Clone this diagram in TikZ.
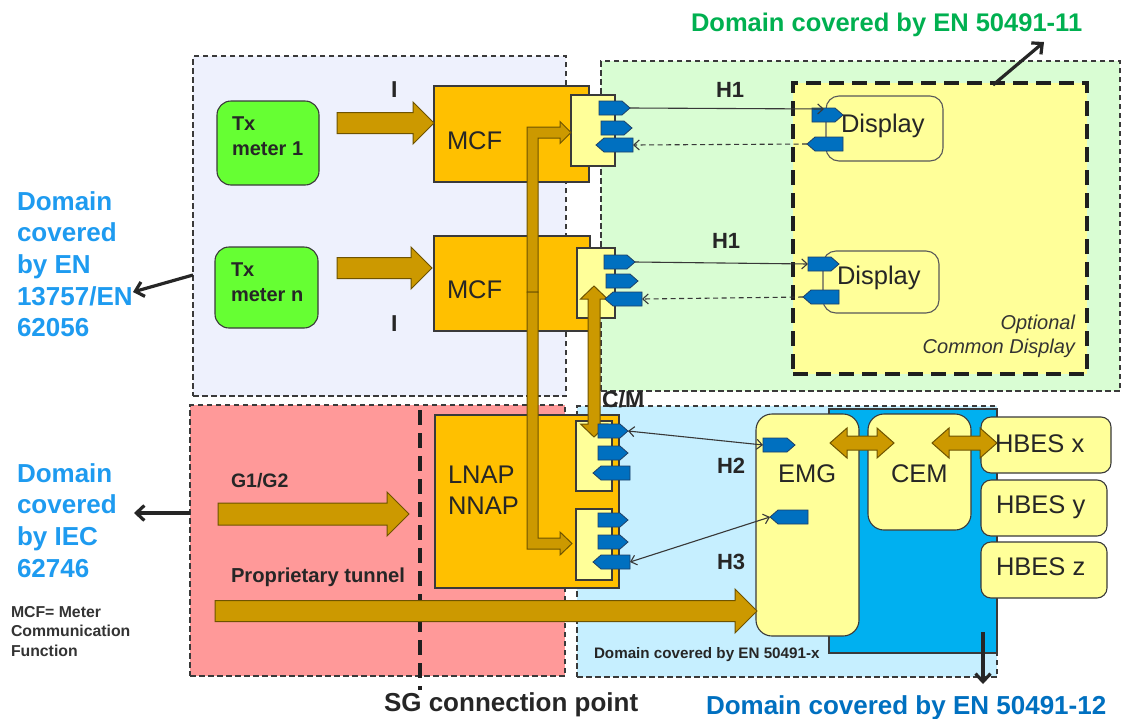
\documentclass[tikz,border=0pt]{standalone}
\usepackage{fontspec}
\setmainfont{Liberation Sans}
\usetikzlibrary{arrows.meta}
\definecolor{lavC}{HTML}{EEF1FD}
\definecolor{greenbg}{HTML}{D9FDD3}
\definecolor{optY}{HTML}{FFFF99}
\definecolor{redC}{HTML}{FF9999}
\definecolor{lblue}{HTML}{C6EFFF}
\definecolor{bblue}{HTML}{00B0F0}
\definecolor{orangeC}{HTML}{FFC000}
\definecolor{goldC}{HTML}{CC9900}
\definecolor{goldD}{HTML}{6E5300}
\definecolor{meterG}{HTML}{66FF33}
\definecolor{portY}{HTML}{FFFF99}
\definecolor{tagB}{HTML}{0070C0}
\definecolor{tagD}{HTML}{1F3F66}
\definecolor{dgray}{HTML}{3A3A3A}
\definecolor{txt}{HTML}{262626}
\definecolor{leftblue}{HTML}{1E9BF0}
\definecolor{botblue}{HTML}{0070C0}
\definecolor{topgreen}{HTML}{00B050}
\newcommand\fsz[2]{\fontsize{#1pt}{#2pt}\selectfont}
\newcommand\harrow[6]{%
  \filldraw[goldarr] (#1,{#3-#4}) -- ({#2-#6},{#3-#4}) -- ({#2-#6},{#3-#5}) -- (#2,#3) -- ({#2-#6},{#3+#5}) -- ({#2-#6},{#3+#4}) -- (#1,{#3+#4}) -- cycle;}
\newcommand\dharrow[6]{%
  \filldraw[goldarr] (#1,#3) -- ({#1+#6},{#3-#5}) -- ({#1+#6},{#3-#4}) -- ({#2-#6},{#3-#4}) -- ({#2-#6},{#3-#5}) -- (#2,#3) -- ({#2-#6},{#3+#5}) -- ({#2-#6},{#3+#4}) -- ({#1+#6},{#3+#4}) -- ({#1+#6},{#3+#5}) -- cycle;}
\newcommand\dvarrow[6]{%
  \filldraw[goldarr] (#1,#2) -- ({#1+#5},{#2+#6}) -- ({#1+#4},{#2+#6}) -- ({#1+#4},{#3-#6}) -- ({#1+#5},{#3-#6}) -- (#1,#3) -- ({#1-#5},{#3-#6}) -- ({#1-#4},{#3-#6}) -- ({#1-#4},{#2+#6}) -- ({#1-#5},{#2+#6}) -- cycle;}
\newcommand\tagR[4]{%
  \filldraw[tagst] (#2,{#4-7}) -- ({#3-8},{#4-7}) -- (#3,#4) -- ({#3-8},{#4+7}) -- (#2,{#4+7}) -- cycle;
  \coordinate (#1) at (#3,#4); \coordinate (#1-w) at (#2,#4);}
\newcommand\tagL[4]{%
  \filldraw[tagst] (#2,#4) -- ({#2+8},{#4-7}) -- (#3,{#4-7}) -- (#3,{#4+7}) -- ({#2+8},{#4+7}) -- cycle;
  \coordinate (#1) at (#2,#4); \coordinate (#1-e) at (#3,#4);}
\begin{document}
\begin{tikzpicture}[x=1pt,y=-1pt,
  every node/.style={inner sep=0pt, outer sep=0pt},
  dombox/.style={draw=dgray, line width=1.6pt, dash pattern=on 5.5pt off 3.5pt},
  bigdash/.style={draw=black!88, line width=3.8pt, dash pattern=on 15pt off 8pt},
  abox/.style={anchor=north west, draw=dgray, line width=1.1pt},
  obox/.style={abox, fill=orangeC},
  pbox/.style={abox, fill=portY},
  rbox/.style={abox, fill=portY, draw=black!65, rounded corners=13pt},
  mbox/.style={abox, fill=meterG, rounded corners=14pt},
  goldarr/.style={draw=goldD, fill=goldC, line width=1pt},
  tagst/.style={fill=tagB, draw=tagD, line width=0.8pt},
  conn/.style={draw=black!78, line width=1.1pt},
  dashc/.style={dash pattern=on 5pt off 3.5pt},
  tipE/.style={-{Straight Barb[length=5.5pt,width=10pt]}},
  tipB/.style={{Straight Barb[length=5.5pt,width=10pt]}-{Straight Barb[length=5.5pt,width=10pt]}},
  callarr/.style={draw=black!85, line width=3.2pt, -{Straight Barb[length=8pt,width=15pt]}},
  lbl/.style={anchor=base west, text=txt},
  blbl/.style={anchor=base west, text=txt, font=\bfseries}
]
\useasboundingbox (0,0) rectangle (1121,718);
\fill[white] (0,0) rectangle (1121,718);

% ---- domain areas ----
\node[dombox, fill=lavC, anchor=north west, minimum width=373pt, minimum height=340pt] (lav) at (193,56) {};
\node[dombox, fill=greenbg, anchor=north west, minimum width=519pt, minimum height=330pt] (grn) at (601,61) {};
\node[bigdash, fill=optY, anchor=north west, minimum width=294pt, minimum height=291pt] (opt) at (793,83) {};
\node[dombox, fill=redC, anchor=north west, minimum width=375pt, minimum height=271pt] (red) at (190,405) {};
\node[dombox, fill=lblue, anchor=north west, minimum width=420pt, minimum height=271pt] (lbl) at (577,406) {};
\node[draw=dgray, line width=1.1pt, fill=bblue, anchor=north west, minimum width=168pt, minimum height=244pt] (bbl) at (829,409) {};
\coordinate (sgtop) at (420,410);
\coordinate (sgbot) at (420,690);
\draw[bigdash] (sgtop) -- (sgbot);

% ---- boxes ----
\node[mbox, minimum width=102pt, minimum height=84pt] (tx1) at (217,101) {};
\node[mbox, minimum width=103pt, minimum height=81pt] (txn) at (215,247) {};
\node[obox, minimum width=155pt, minimum height=96pt] (mcf1) at (434,86) {};
\node[obox, minimum width=156pt, minimum height=95pt] (mcf2) at (434,236) {};
\node[obox, minimum width=184pt, minimum height=173pt] (lnap) at (435,415) {};
\node[pbox, minimum width=44pt, minimum height=71pt] (p1) at (571,95) {};
\node[pbox, minimum width=38pt, minimum height=70pt] (p2) at (577,248) {};
\node[pbox, minimum width=36pt, minimum height=70pt] (p3) at (576,421) {};
\node[pbox, minimum width=36pt, minimum height=71pt] (p4) at (576,509) {};
\node[rbox, minimum width=117pt, minimum height=65pt] (disp1) at (826,96) {};
\node[rbox, minimum width=116pt, minimum height=62pt] (disp2) at (823,251) {};
\node[rbox, rounded corners=16pt, draw=dgray, minimum width=103pt, minimum height=222pt] (emg) at (756,414) {};
\node[rbox, rounded corners=16pt, draw=dgray, minimum width=103pt, minimum height=116pt] (cem) at (868,414) {};
\node[rbox, rounded corners=10pt, draw=dgray, minimum width=130pt, minimum height=56pt] (hbx) at (981,417) {};
\node[rbox, rounded corners=10pt, draw=dgray, minimum width=126pt, minimum height=56pt] (hby) at (981,480) {};
\node[rbox, rounded corners=10pt, draw=dgray, minimum width=126pt, minimum height=56pt] (hbz) at (981,542) {};

% ---- gold block arrows ----
\harrow{337}{434}{123}{10.5}{21}{21}
\harrow{337}{432}{268}{10.5}{21}{21}
\harrow{218}{409}{514}{11}{22}{22}
\harrow{215}{757}{611}{10.5}{22}{22}
% bent arrows from MCF level up to port 1 and down to port 4
\filldraw[goldarr] (527,292) -- (527,127) -- (560,127) -- (560,121.5) -- (571,132.5) -- (560,143.5) -- (560,138) -- (538,138) -- (538,292) -- cycle;
\filldraw[goldarr] (527,292) -- (527,549) -- (560,549) -- (560,555) -- (572,543.5) -- (560,532) -- (560,538) -- (538,538) -- (538,292) -- cycle;
\dvarrow{594}{286}{437}{6}{13.5}{13}
\dharrow{830}{894}{443}{7}{15}{17}
\dharrow{932}{997}{443}{7}{15}{17}

% ---- port tags ----
\tagR{m1a}{599}{630}{108}
\tagR{m1b}{601}{632}{128}
\tagL{m1c}{596}{633}{145}
\tagR{m2a}{604}{635}{262}
\tagR{m2b}{606}{638}{281}
\tagL{m2c}{605}{642}{299}
\tagR{l1a}{598}{628}{431}
\tagR{l1b}{598}{628}{453}
\tagL{l1c}{593}{630}{473}
\tagR{l2a}{598}{628}{520}
\tagR{l2b}{598}{628}{542}
\tagL{l2c}{593}{630}{562}
\tagR{d1a}{812}{843}{115}
\tagL{d1b}{807}{843}{144}
\tagR{d2a}{808}{839}{264}
\tagL{d2b}{803}{839}{297}
\tagR{ea}{763}{795}{445}
\tagL{eb}{770}{808}{517}

% ---- thin connectors ----
\coordinate (d1in) at (824,109);
\draw[conn, tipE] (m1a) -- (d1in);
\draw[conn, tipE, dashc] (d1b) -- (m1c-e);
\draw[conn, tipE] (m2a) -- (d2a-w);
\draw[conn, tipE, dashc] (d2b) -- (m2c-e);
\draw[conn, tipB] (l1a) -- (ea-w);
\draw[conn, tipB] (l2c-e) -- (eb);

% ---- callout arrows ----
\coordinate (c1s) at (193,275); \coordinate (c1e) at (133,292);
\draw[callarr] (c1s) -- (c1e);
\coordinate (c2s) at (190,513); \coordinate (c2e) at (134,513);
\draw[callarr] (c2s) -- (c2e);
\coordinate (c3s) at (993,85); \coordinate (c3e) at (1044,42);
\draw[callarr] (c3s) -- (c3e);
\coordinate (c4s) at (983,632); \coordinate (c4e) at (983,684);
\draw[callarr] (c4s) -- (c4e);

% ---- texts in boxes ----
\node[blbl, font=\bfseries\fsz{20}{24}] (t1a) at (232,130) {Tx};
\node[blbl, font=\bfseries\fsz{20}{24}] (t1b) at (232,155) {meter 1};
\node[blbl, font=\bfseries\fsz{20}{24}] (tna) at (231,276) {Tx};
\node[blbl, font=\bfseries\fsz{20}{24}] (tnb) at (231,301) {meter n};
\node[lbl, font=\fsz{25.5}{30}] (tm1) at (447,149) {MCF};
\node[lbl, font=\fsz{25.5}{30}] (tm2) at (447,298) {MCF};
\node[lbl, font=\fsz{25.5}{30}] (tl1) at (448,483) {LNAP};
\node[lbl, font=\fsz{25.5}{30}] (tl2) at (448,514) {NNAP};
\node[lbl, font=\fsz{25.5}{30}] (td1) at (841,132) {Display};
\node[lbl, font=\fsz{25.5}{30}] (td2) at (837,284) {Display};
\node[lbl, font=\fsz{25.5}{30}] (te) at (778,482) {EMG};
\node[lbl, font=\fsz{25.5}{30}] (tc) at (891,482) {CEM};
\node[lbl, font=\fsz{25.5}{30}] (thx) at (995,452) {HBES x};
\node[lbl, font=\fsz{25.5}{30}] (thy) at (996,513) {HBES y};
\node[lbl, font=\fsz{25.5}{30}] (thz) at (996,575) {HBES z};
\node[anchor=base east, text=black!80, font=\itshape\fsz{20}{24}] (to1) at (1075,329) {Optional};
\node[anchor=base east, text=black!80, font=\itshape\fsz{20}{24}] (to2) at (1075,353) {Common Display};

% ---- interface labels ----
\node[blbl, font=\bfseries\fsz{23}{27}] (li1) at (391,97) {I};
\node[blbl, font=\bfseries\fsz{23}{27}] (li2) at (391,331) {I};
\node[blbl, font=\bfseries\fsz{22}{26}] (lh1) at (716,97) {H1};
\node[blbl, font=\bfseries\fsz{22}{26}] (lh1b) at (712,248) {H1};
\node[blbl, font=\bfseries\fsz{23}{27}] (lcm) at (602,407) {C/M};
\node[blbl, font=\bfseries\fsz{22}{26}] (lh2) at (717,473) {H2};
\node[blbl, font=\bfseries\fsz{22}{26}] (lh3) at (717,569) {H3};
\node[blbl, font=\bfseries\fsz{19.5}{23}] (lg) at (231,487) {G1/G2};
\node[blbl, font=\bfseries\fsz{20.2}{24}] (lpt) at (231,582) {Proprietary tunnel};
\node[blbl, font=\bfseries\fsz{15.2}{18}] (lx) at (594,658) {Domain covered by EN 50491-x};
\node[blbl, font=\bfseries\fsz{26}{30}] (lsg) at (384,711) {SG connection point};

% ---- domain captions ----
\node[anchor=base west, text=topgreen, font=\bfseries\fsz{25.5}{30}] (dg) at (691,31) {Domain covered by EN 50491-11};
\node[anchor=base west, text=botblue, font=\bfseries\fsz{26}{30}] (db) at (706,714) {Domain covered by EN 50491-12};
\foreach \t [count=\i from 0] in {Domain,covered,by EN,13757/EN,62056}
  \node[anchor=base west, text=leftblue, font=\bfseries\fsz{26}{30}] (dl\i) at (17,{210+31.7*\i}) {\t};
\foreach \t [count=\i from 0] in {Domain,covered,by IEC,62746}
  \node[anchor=base west, text=leftblue, font=\bfseries\fsz{26}{30}] (di\i) at (17,{482+31.7*\i}) {\t};
\foreach \t [count=\i from 0] in {MCF= Meter,Communication,Function}
  \node[anchor=base west, text=black!80, font=\bfseries\fsz{15.8}{19}] (mf\i) at (11,{617+19.5*\i}) {\t};
\end{tikzpicture}
\end{document}
